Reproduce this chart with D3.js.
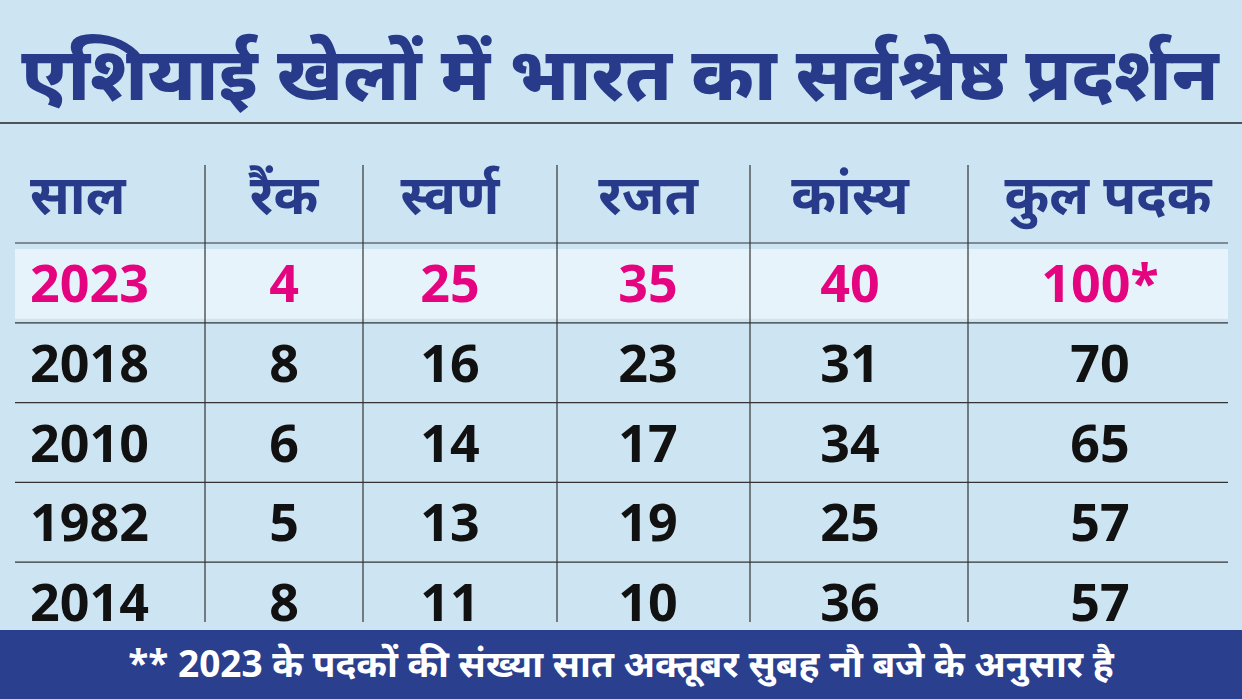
<!DOCTYPE html>
<html><head><meta charset="utf-8">
<script src="https://cdn.jsdelivr.net/npm/d3@7"></script>
<style>body{margin:0;overflow:hidden}</style>
</head><body><div id="chart"></div>
<script>
const title = "एशियाई खेलों में भारत का सर्वश्रेष्ठ प्रदर्शन";
const headers = ["साल", "रैंक", "स्वर्ण", "रजत", "कांस्य", "कुल पदक"];
const years = ["2023", "2018", "2010", "1982", "2014"];
const ranks = ["4", "8", "6", "5", "8"];
const gold = ["25", "16", "14", "13", "11"];
const silver = ["35", "23", "17", "19", "10"];
const bronze = ["40", "31", "34", "25", "36"];
const total = ["100*", "70", "65", "57", "57"];
const footnote = "** 2023 के पदकों की संख्या सात अक्तूबर सुबह नौ बजे के अनुसार है";

const width = 1242, height = 699;
const font = "'Noto Sans', 'Noto Sans Devanagari', sans-serif";
const navy = "#283a8a", pink = "#e5047f";

const svg = d3.select("#chart").append("svg")
    .attr("width", width).attr("height", height);

svg.append("rect").attr("width", width).attr("height", height).attr("fill", "#cde5f3");

// title
svg.append("text").attr("x", 620).attr("y", 100).attr("text-anchor", "middle")
    .attr("fill", navy).style("font-family", font).style("font-weight", 800)
    .style("font-size", "74px").text(title);
svg.append("line").attr("x1", 0).attr("x2", width).attr("y1", 123).attr("y2", 123)
    .attr("stroke", "#222").attr("stroke-width", 1.5);

// columns: boundaries and text anchors
const colEdges = [15, 205, 363, 557, 750, 968, 1228];
const colX = [30, 284, 450, 648, 850, 1100];
const anchors = ["start", "middle", "middle", "middle", "middle", "middle"];

const y = d3.scaleBand().domain(d3.range(years.length)).range([243, 642]).paddingInner(0);

// highlight row
svg.append("rect").attr("x", 15).attr("y", y(0) + 6).attr("width", 1213).attr("height", y.bandwidth() - 10)
    .attr("fill", "#e6f3fb");

// grid lines
svg.selectAll(".hline").data(d3.range(years.length)).enter().append("line")
    .attr("x1", 15).attr("x2", 1228)
    .attr("y1", d => y(d)).attr("y2", d => y(d))
    .attr("stroke", "#333").attr("stroke-width", 1.2);
svg.selectAll(".vline").data(colEdges.slice(1, -1)).enter().append("line")
    .attr("x1", d => d).attr("x2", d => d).attr("y1", 165).attr("y2", 622)
    .attr("stroke", "#333").attr("stroke-width", 1.2);

// headers
svg.selectAll(".hdr").data(headers).enter().append("text")
    .attr("x", (d, i) => i === 5 ? 1108 : colX[i]).attr("y", 214)
    .attr("text-anchor", (d, i) => anchors[i])
    .attr("fill", navy).style("font-family", font).style("font-weight", 700)
    .style("font-size", "54px").text(d => d);

// rows
const cols = [years, ranks, gold, silver, bronze, total];
years.forEach((yr, r) => {
    cols.forEach((col, c) => {
        svg.append("text")
            .attr("x", colX[c]).attr("y", y(r) + y.bandwidth() / 2 + 19)
            .attr("text-anchor", anchors[c])
            .attr("fill", r === 0 ? pink : "#111")
            .style("font-family", font).style("font-weight", 700)
            .style("font-size", "52px").text(col[r]);
    });
});

// footer
svg.append("rect").attr("x", 0).attr("y", 630).attr("width", width).attr("height", 69).attr("fill", "#2b3f8f");
svg.append("text").attr("x", 621).attr("y", 677).attr("text-anchor", "middle")
    .attr("fill", "#fff").style("font-family", font).style("font-weight", 700)
    .style("font-size", "37px").text(footnote);
</script></body></html>
